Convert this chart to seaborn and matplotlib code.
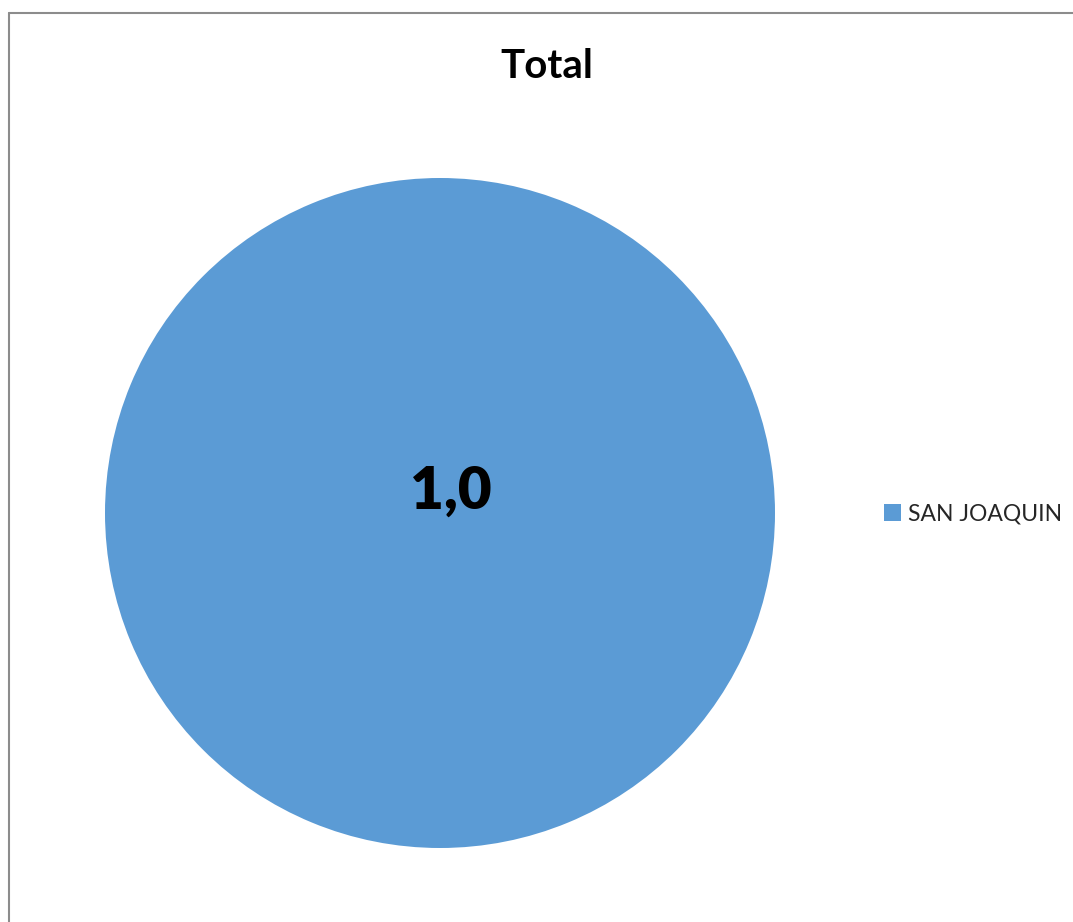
import matplotlib
matplotlib.use("Agg")
import matplotlib.pyplot as plt
import seaborn as sns
from matplotlib.lines import Line2D
from matplotlib.patches import Patch

# Data
categories = ["SAN JOAQUIN"]
values = [1.0]
title = "Total"
colors = ["#5B9BD5"]

sns.set_theme(style="white")
plt.rcParams["font.family"] = ["Lato", "DejaVu Sans"]

W, H = 1073, 922
fig = plt.figure(figsize=(W / 100, H / 100), dpi=100)
fig.patch.set_facecolor("white")

# Chart frame (left and top edges visible)
x0, y0 = 8.5 / W, 1 - 13.5 / H
fig.add_artist(Line2D([x0, x0], [y0, -0.01], transform=fig.transFigure,
                      color="#8c8c8c", lw=1.5))
fig.add_artist(Line2D([x0, 1.01], [y0, y0], transform=fig.transFigure,
                      color="#8c8c8c", lw=1.5))

# Pie axes: centre (440, 513) px, radius 335 px
cx, cy, r = 440, 513, 335
ax = fig.add_axes([(cx - r) / W, (H - cy - r) / H, 2 * r / W, 2 * r / H])
total = sum(values)


def fmt(p):
    return f"{p / 100 * total:.1f}".replace(".", ",")


wedges, texts, autotexts = ax.pie(
    values, colors=colors, autopct=fmt, pctdistance=0.0, startangle=90,
    wedgeprops=dict(linewidth=0), textprops=dict(color="black"))
for t in autotexts:
    t.set_fontsize(42)
    t.set_fontweight("heavy")
    t.set_position((11 / r, 22 / r))
ax.set_xlim(-1, 1)
ax.set_ylim(-1, 1)
ax.set_aspect("equal")
ax.axis("off")

fig.text(547 / W, 1 - 66 / H, title, ha="center", va="center",
         fontsize=29, fontweight="bold", color="black")

handles = [Patch(facecolor=c, edgecolor="none") for c in colors]
fig.legend(handles, categories, loc="center left",
           bbox_to_anchor=(875 / W, 1 - 514 / H), frameon=False,
           fontsize=16.5, handlelength=0.75, handleheight=0.75,
           handletextpad=0.3, borderaxespad=0)

fig.savefig("out.png", dpi=100, facecolor="white")
